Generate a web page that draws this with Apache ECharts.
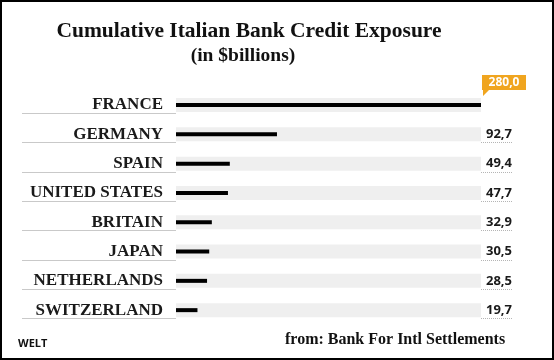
<!DOCTYPE html>
<html>
<head>
<meta charset="utf-8">
<script src="https://cdn.jsdelivr.net/npm/echarts@6/dist/echarts.min.js"></script>
<style>
  html, body { margin: 0; padding: 0; background: #fff; }
  #wrap { width: 554px; height: 360px; box-sizing: border-box; border: 2px solid #000; position: relative; background: #fff; }
  #chart { position: absolute; left: -2px; top: -2px; width: 554px; height: 360px; }
</style>
</head>
<body>
<div id="wrap"><div id="chart"></div></div>
<script>
const categories = ['FRANCE', 'GERMANY', 'SPAIN', 'UNITED STATES', 'BRITAIN', 'JAPAN', 'NETHERLANDS', 'SWITZERLAND'];
const values = [280.0, 92.7, 49.4, 47.7, 32.9, 30.5, 28.5, 19.7];
const valueLabels = ['280,0', '92,7', '49,4', '47,7', '32,9', '30,5', '28,5', '19,7'];
const separatorTicks = [1, 8];
const underlineTicks = [2, 8];
const axisMax = 280;

const serif = "'Liberation Serif', 'Times New Roman', serif";
const sans = "'Open Sans', 'Liberation Sans', sans-serif";

const chart = echarts.init(document.getElementById('chart'), null, { renderer: 'canvas' });

const gridMain = { left: 176, right: 73, top: 90.4, height: 234.4 };

chart.setOption({
  backgroundColor: 'transparent',
  animation: false,
  title: [
    { text: 'Cumulative Italian Bank Credit Exposure', left: 244, top: 15, textAlign: 'center',
      textStyle: { fontFamily: serif, fontWeight: 'bold', fontSize: 21.5, color: '#111' } },
    { text: '(in $billions)', left: 238, top: 41, textAlign: 'center',
      textStyle: { fontFamily: serif, fontWeight: 'bold', fontSize: 19.5, color: '#111' } },
    { text: 'from: Bank For Intl Settlements', left: 280, top: 327,
      textStyle: { fontFamily: serif, fontWeight: 'bold', fontSize: 16, color: '#111' } },
    { text: 'WELT', left: 13, top: 333,
      textStyle: { fontFamily: sans, fontWeight: 'bold', fontSize: 11, color: '#111' } }
  ],
  grid: [
    Object.assign({}, gridMain),
    { left: 176, right: 73, top: 113.3, bottom: 41.4 },
    Object.assign({}, gridMain),
    { left: 481, right: 40, top: 142.6, bottom: 41.4 }
  ],
  xAxis: [
    { type: 'value', gridIndex: 0, min: 0, max: axisMax, show: false },
    { type: 'value', gridIndex: 1, min: 0, max: axisMax, show: false },
    { type: 'value', gridIndex: 2, min: 0, max: axisMax, show: false },
    { type: 'value', gridIndex: 3, min: 0, max: 1, show: false }
  ],
  yAxis: [
    { type: 'category', gridIndex: 0, data: categories, inverse: true,
      axisLine: { show: false }, axisTick: { show: false }, splitLine: { show: false },
      axisLabel: { margin: 13, fontFamily: serif, fontWeight: 'bold', fontSize: 17, color: '#1a1a1a',
        padding: [0, 0, 4, 0] } },
    { type: 'category', gridIndex: 0, data: valueLabels, inverse: true, position: 'right',
      axisLine: { show: false }, axisTick: { show: false }, splitLine: { show: false },
      axisLabel: { margin: 5, fontFamily: sans, fontWeight: 'bold', fontSize: 13, color: '#1a1a1a',
        padding: [0, 0, 2, 0],
        formatter: (v, i) => (i === 0 ? '' : v) } },
    { type: 'value', gridIndex: 1, min: separatorTicks[0], max: separatorTicks[1], interval: 1, inverse: true,
      position: 'left',
      axisLine: { show: false }, axisLabel: { show: false }, splitLine: { show: false },
      axisTick: { show: true, length: 154, lineStyle: { color: '#c9c9c9', width: 1 } } },
    { type: 'value', gridIndex: 3, min: underlineTicks[0], max: underlineTicks[1], interval: 1, inverse: true,
      position: 'left',
      axisLine: { show: false }, axisLabel: { show: false }, splitLine: { show: false },
      axisTick: { show: true, inside: true, length: 32, lineStyle: { color: '#b5b5b5', width: 1, type: 'dotted' } } },
    { type: 'category', gridIndex: 2, data: categories, inverse: true, show: false }
  ],
  series: [
    { name: 'track', type: 'bar', xAxisIndex: 2, yAxisIndex: 4, data: values, barWidth: 14, z: 1, silent: true,
      itemStyle: { color: 'rgba(0,0,0,0)' },
      showBackground: true, backgroundStyle: { color: '#efefef' } },
    { name: 'exposure', type: 'bar', xAxisIndex: 0, yAxisIndex: 0, data: values, barWidth: 4, z: 3,
      itemStyle: { color: '#000' },
      markPoint: {
        silent: true,
        symbol: 'path://M0 0 H44 V15 H7 L1 21 V15 H0 Z',
        symbolSize: [44, 21],
        symbolKeepAspect: false,
        symbolOffset: [23, -19.5],
        itemStyle: { color: '#F0A51F' },
        label: { show: true, position: 'inside', offset: [0, -3], color: '#fff', fontFamily: sans,
          fontWeight: 'bold', fontSize: 12, formatter: () => valueLabels[0] },
        data: [{ coord: [values[0], categories[0]] }]
      } }
  ]
});
</script>
</body>
</html>
